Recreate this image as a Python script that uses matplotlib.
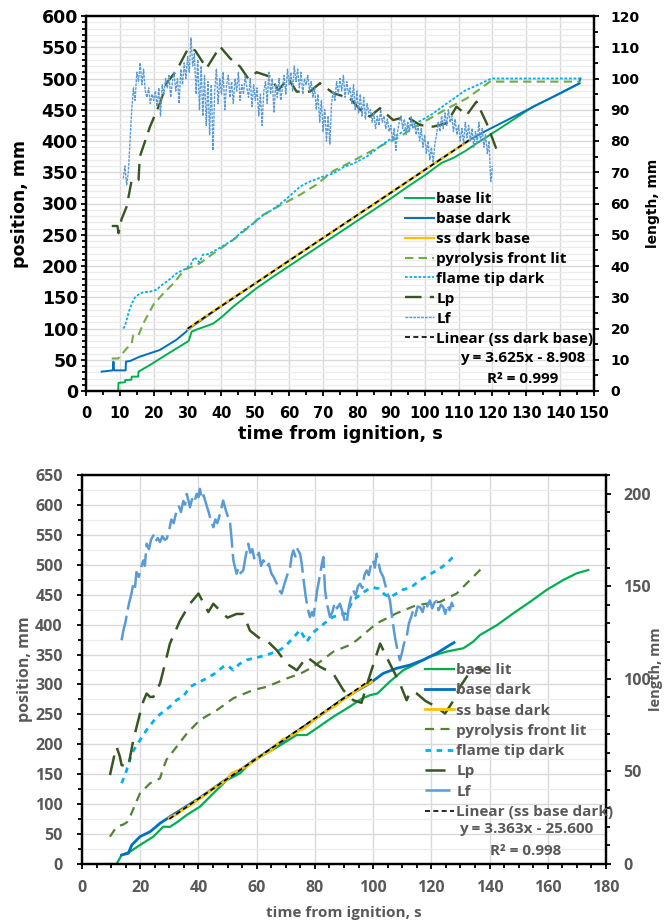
import numpy as np
import matplotlib
matplotlib.use("Agg")
import matplotlib.pyplot as plt
from matplotlib.ticker import MultipleLocator
from matplotlib.font_manager import FontProperties

plt.rcParams['font.family'] = ['Open Sans', 'DejaVu Sans']
plt.rcParams['font.weight'] = 'bold'
plt.rcParams['axes.labelweight'] = 'bold'
plt.rcParams['font.size'] = 11

# ---------------- upper test (dark / lit camera) ----------------
top_lit_t = [7.1, 9.5, 9.6, 11.5, 11.6, 13.4, 13.5, 15.4, 15.5, 18.9,
             22.8, 26.7, 29.1, 30.3, 31.2, 33.0, 35.1, 37.6, 40.0, 43.5,
             50.0, 55.0, 60.0, 65.0, 70.0, 75.0, 80.0, 85.0, 90.0, 95.0,
             100.0, 105.0, 108.5, 112.0, 115.3, 122.2, 132.0, 140.0, 145.8]
top_lit_mm = [0, 0, 13, 14, 17.6, 18, 23, 23, 31, 41.6,
              55, 68, 76, 80, 95, 99, 103, 108, 118, 135,
              163, 182, 200, 218, 236, 254, 272, 290, 308, 327,
              345, 365, 373, 384, 396, 420, 455, 476, 492]

top_dark_t = [4.6, 7.9, 8.1, 8.3, 11.7, 11.8, 13.0, 15.9, 21.8, 26.7,
              29.6, 30.0, 40.0, 50.0, 60.0, 70.0, 80.0, 90.0, 100.0, 110.0,
              113.0, 118.0, 122.0, 130.0, 138.0, 145.5, 146.0]
top_dark_mm = [31, 33, 47, 33, 33, 47, 48, 55, 65.6, 82,
               95, 98, 136, 172, 209, 245, 281, 317, 354, 390,
               401, 416, 427, 449, 471, 492, 500]

top_ss_t = [30, 33, 36, 39, 42, 45, 48, 51, 54, 57, 60, 63, 66, 69, 72,
            75, 78, 81, 84, 87, 90, 93, 96, 99, 102, 105, 108, 111, 113.5]
top_ss_mm = [99, 111, 122, 133, 144, 155, 165, 176, 187, 198, 208, 220, 230, 242, 252,
             263, 273, 285, 295, 306, 318, 328, 339, 350, 361, 371, 383, 393, 402]
top_fit = (3.625, -8.908)

top_pyro_t = [7.6, 9.5, 12.0, 13.5, 13.9, 15.5, 16.9, 19.9, 22.8, 25.8,
              29.1, 33.5, 37.6, 43.5, 49.4, 51.4, 57.0, 63.2, 68.0, 73.0,
              77.0, 82.9, 87.0, 92.7, 97.0, 102.5, 107.0, 112.4, 116.0, 119.3,
              145.8]
top_pyro_mm = [52, 52, 68, 76, 89, 89, 108, 138, 156, 172,
               194, 204, 220, 242, 268, 279, 296, 314, 330, 352,
               363, 380, 392, 407, 422, 439, 453, 468, 482, 495,
               495]

top_tip_t = [11.0, 11.5, 12.5, 13.5, 14.5, 15.9, 17.0, 18.9, 20.9, 22.0,
             23.8, 25.0, 26.7, 28.0, 29.6, 31.0, 32.0, 33.5, 34.5, 36.0,
             38.5, 41.0, 43.5, 46.4, 49.4, 52.0, 55.0, 58.0, 61.0, 63.2,
             66.0, 70.0, 73.0, 76.0, 79.0, 82.9, 86.0, 89.0, 92.7, 96.0,
             99.0, 102.5, 106.0, 109.4, 112.0, 115.0, 117.0, 119.3, 120.0, 146.0]
top_tip_mm = [100, 104, 124, 140, 150, 156, 158, 159, 162, 168,
              175, 180, 188, 192, 196, 203, 214, 206, 218, 219,
              226, 234, 242, 257, 268, 280, 290, 302, 316, 327,
              335, 343, 348, 358, 364, 375, 388, 400, 412, 425,
              433, 444, 458, 471, 481, 488, 493, 499, 500, 500]

top_lp_t = [7.6, 9.3, 9.6, 10.5, 12.0, 13.5, 15.5, 15.9, 18.9, 21.8,
            23.8, 26.8, 30.2, 32.2, 35.6, 39.6, 42.5, 45.5, 47.9, 50.4,
            54.3, 56.8, 59.7, 62.2, 66.1, 69.1, 73.0, 77.9, 81.0, 83.8,
            86.8, 90.7, 94.7, 98.6, 102.5, 106.5, 109.4, 112.4, 115.3, 118.3,
            121.3]
top_lp_len = [52.8, 52.8, 50.5, 55.0, 59.0, 67.5, 67.5, 75.0, 84.6, 92.0,
              98.5, 102.7, 109.7, 109.0, 103.3, 110.2, 106.5, 103.8, 100.0, 102.0,
              100.6, 96.3, 100.0, 95.8, 95.8, 98.5, 95.3, 93.7, 90.0, 87.8,
              90.5, 86.7, 87.8, 85.1, 84.6, 85.7, 91.0, 88.3, 92.6, 85.7,
              77.1]

# flame length, sampled every 0.5 s from 11 s
top_lf_start, top_lf_step = 11.0, 0.5
top_lf_len = [68, 72, 66, 70,
              80, 90, 97, 93, 102, 99, 105, 98, 103, 96,
              94, 97, 92, 95, 93, 96, 91, 97, 88, 98,
              95, 100, 97, 101, 94, 99, 102, 96, 100, 92,
              103, 98, 105, 100, 107, 102, 113, 104, 108, 95,
              106, 90, 104, 88, 101, 85, 99, 82, 98, 77,
              96, 103, 92, 100, 95, 102, 90, 98, 101, 94,
              99, 92, 100, 96, 102, 93, 98, 95, 101, 97,
              94, 100, 91, 98, 93, 97, 88, 95, 85, 96,
              99, 92, 102, 95, 100, 89, 98, 94, 100, 93,
              97, 101, 95, 103, 98, 102, 96, 104, 99, 103,
              97, 102, 95, 100, 98, 101, 96, 99, 94, 97,
              90, 95, 86, 93, 83, 90, 80, 88, 79, 92,
              96, 93, 99, 95, 100, 96, 101, 94, 99, 95,
              97, 92, 98, 90, 96, 89, 95, 88, 94, 87,
              92, 89, 90, 86, 89, 84, 88, 85, 90, 86,
              88, 84, 87, 83, 85, 80, 84, 77, 83, 86,
              88, 84, 87, 82, 86, 83, 88, 84, 86, 82,
              85, 80, 84, 78, 82, 76, 80, 74, 78, 73,
              79, 82, 86, 83, 88, 84, 89, 85, 90, 86,
              88, 83, 87, 82, 85, 80, 84, 79, 86, 81,
              85, 80, 84, 78, 83, 79, 86, 80, 84, 78,
              82, 76, 80, 67, 72]

# ---------------- lower test ----------------
bot_lit_t = [7.3, 11.9, 13.6, 16.5, 19.9, 24.5, 27.9, 30.2, 33.0, 36.0,
             40.5, 45.1, 49.7, 54.3, 58.8, 63.4, 69.2, 73.7, 77.2, 80.6,
             86.3, 92.0, 96.0, 98.9, 101.5, 105.8, 110.4, 115.0, 119.5, 125.3,
             131.0, 134.4, 136.7, 142.5, 148.2, 153.9, 159.6, 165.3, 169.9, 173.9]
bot_lit_mm = [0, 0, 15, 20.6, 31.7, 45.7, 62.4, 62, 71, 82,
              95.7, 118, 140, 151.5, 173.8, 185, 201.7, 215.5, 215.5, 226.7,
              246, 263, 276, 282, 285, 305, 324, 335, 346.4, 355,
              360.5, 371.5, 382.6, 399, 419, 438, 458, 474.5, 485.7, 491.2]

bot_dark_t = [13.6, 15.9, 17.1, 19.9, 23.4, 26.8, 30.2, 40.0, 50.0, 60.0,
              70.0, 80.0, 90.0, 98.9, 103.5, 108.1, 112.7, 117.2, 121.8, 126.4,
              127.8]
bot_dark_mm = [15, 17.8, 31.7, 45.7, 54, 68, 79, 109, 143, 176,
               209, 242, 277, 302, 318.6, 327, 332.5, 341, 352, 366,
               370]

bot_ss_t = [30, 32.5, 35, 37.5, 40, 42.5, 45, 47.5, 50, 51.5,
            54, 56.5, 59, 61, 63, 65, 67, 69, 71, 73,
            75, 77, 79, 81, 83, 85, 87, 89, 91, 93,
            95, 97, 99.5]
bot_ss_mm = [77, 83, 92, 99, 108, 116, 126, 133, 142, 152,
             157, 163, 172, 180, 184, 190, 200, 208, 212, 218,
             224, 229, 238, 246, 253, 259, 264, 272, 279, 285,
             292, 298, 304]
bot_fit = (3.363, -25.600)

bot_pyro_t = [9.6, 11.9, 14.2, 15.5, 16.5, 19.9, 23.4, 26.8, 27.9, 29.0,
              32.5, 36.0, 40.5, 46.3, 52.0, 58.8, 63.4, 70.3, 75.0, 79.5,
              86.3, 92.0, 94.4, 101.2, 108.1, 115.0, 123.0, 128.7, 133.3, 137.3]
bot_pyro_mm = [45.7, 62.4, 66, 70, 79, 118, 135, 143, 160, 174,
               196, 218, 240.6, 257, 277, 290.7, 296, 310, 318, 329.6,
               354.7, 366, 374, 402, 419, 432.7, 438, 452, 474.5, 494]

bot_tip_t = [13.6, 15.0, 17.1, 19.9, 22.2, 25.7, 30.2, 32.5, 34.8, 37.1,
             39.4, 42.8, 45.5, 48.5, 50.0, 51.9, 54.0, 56.6, 60.0, 63.4,
             68.0, 70.0, 72.0, 74.9, 77.2, 79.0, 81.8, 84.0, 86.3, 88.5,
             90.9, 93.0, 96.0, 98.0, 100.0, 102.0, 104.0, 106.0, 108.0, 110.0,
             113.0, 116.0, 119.5, 123.0, 125.5, 127.6]
bot_tip_mm = [135, 151.5, 185, 207, 224, 246, 263, 274, 280, 296,
              302, 310, 318, 329.6, 332, 324, 334, 341, 345, 349,
              357.6, 365, 375, 391, 371.4, 385, 396.5, 405, 413, 416,
              419, 440, 452, 458, 462, 460, 450, 446, 452, 458,
              462, 474, 484, 494, 503, 514]

bot_lp_t = [9.6, 11.3, 11.9, 13.0, 13.6, 15.9, 17.6, 19.9, 21.1, 22.2,
            23.4, 24.5, 26.8, 28.5, 30.2, 33.7, 37.1, 40.0, 43.4, 45.1,
            48.5, 50.0, 53.1, 55.4, 57.7, 61.1, 63.4, 66.9, 70.3, 73.8,
            77.2, 81.8, 86.3, 89.8, 93.2, 96.0, 98.5, 102.4, 105.8, 109.2,
            111.5, 112.7, 115.0, 118.0, 121.8, 124.7, 127.5, 130.0, 133.0, 136.0,
            138.0]
bot_lp_len = [48, 60, 63.2, 58, 53.4, 52.5, 66.8, 81.2, 88, 92,
              90.2, 90.2, 97.4, 108, 119, 131.5, 140.5, 146, 136, 140.5,
              135, 133, 135, 135, 126, 121.7, 120.8, 115.4, 108.2, 104.6,
              111.8, 106.4, 102.8, 93.8, 88.4, 87, 100, 119, 108, 97.4,
              88.4, 92.9, 92, 88, 84.8, 81.2, 88, 96, 103, 106,
              104]

bot_lf_t = [13.6, 14.2, 15.0, 15.4, 16.2, 17.0, 17.6, 18.2, 18.7, 19.5,
            20.3, 21.1, 21.6, 22.2, 23.0, 23.7, 24.5, 25.2, 26.0, 26.8,
            27.6, 28.4, 29.1, 29.9, 30.7, 31.5, 32.5, 33.3, 34.0, 34.8,
            35.4, 36.0, 36.6, 37.1, 37.8, 38.5, 39.4, 40.0, 40.5, 41.2,
            41.8, 42.8, 43.5, 44.2, 45.1, 45.8, 46.5, 47.4, 48.0, 48.5,
            49.2, 50.0, 50.8, 51.4, 52.0, 52.6, 53.1, 53.8, 54.5, 55.4,
            56.2, 57.1, 57.8, 58.5, 59.3, 60.0, 60.8, 61.5, 62.3, 63.4,
            64.2, 65.0, 65.8, 66.9, 67.6, 68.6, 69.5, 70.5, 71.5, 72.0,
            72.6, 73.3, 74.0, 74.9, 75.5, 76.0, 76.8, 77.5, 78.3, 79.0,
            79.5, 80.0, 80.8, 81.3, 81.8, 82.4, 82.9, 83.5, 84.2, 85.2,
            86.0, 86.8, 87.6, 88.6, 89.5, 90.3, 90.9, 91.6, 92.4, 93.2,
            94.0, 94.8, 95.5, 96.3, 97.0, 97.8, 98.5, 99.3, 100.0, 100.6,
            101.2, 101.8, 102.5, 103.5, 104.3, 105.0, 105.8, 106.6, 107.5, 108.3,
            109.2, 109.9, 110.6, 111.5, 112.3, 113.0, 113.8, 114.5, 115.3, 116.1,
            117.0, 117.8, 118.6, 119.5, 120.3, 121.0, 121.8, 122.5, 123.3, 124.1,
            124.8, 125.5, 126.3, 127.0, 127.6]
bot_lf_len = [120.8, 126, 131, 135, 141, 146, 151.3, 149, 157.6, 155,
              160, 163.9, 161, 172.9, 170, 175, 177.4, 174, 176, 173.8,
              177, 175, 175.6, 180, 186, 184, 190.8, 193, 190, 196,
              194, 199.8, 196, 192.6, 197, 195, 199.8, 198, 202.5, 197,
              199, 193.5, 190, 186, 181.8, 186, 184, 189, 193, 196.2,
              192, 188, 185.4, 175, 163.9, 160, 156.7, 160, 157, 158.5,
              166, 172.9, 168, 170, 164, 165.7, 168, 161, 164, 160.3,
              162, 157, 155, 151.3, 148, 146, 151, 156, 160.3, 166,
              169.3, 166, 170, 167.5, 162, 154.9, 145, 138, 133.3, 136,
              134, 138.7, 148, 152, 156.7, 162, 165.7, 147.7, 140, 133.3,
              136, 141, 138, 140.5, 136, 131, 129.8, 138, 144, 147.7,
              145, 150, 151.3, 149, 156, 158.5, 156, 162, 164, 160,
              167.5, 163, 158, 154.9, 150, 146, 142.3, 132, 122.5, 116,
              110, 114, 119, 122.5, 130, 133, 137, 134, 139, 138.7,
              136, 141, 139, 142.3, 138, 141, 142, 137, 140, 138.7,
              135, 140, 137, 141, 138.7]

W, H = 664, 923
fig = plt.figure(figsize=(W / 100, H / 100), dpi=100)


def px_axes(x0, y0, x1, y1):
    # axes rectangle given in pixel corners (top-left origin)
    return fig.add_axes([x0 / W, 1 - y1 / H, (x1 - x0) / W, (y1 - y0) / H])


def dress(ax, ax2, xmax, xmaj, xmin, ymax, ymaj, ymin, rmax, rmaj, rmin, ink,
          lpad, rpad, bpad):
    ax.set_xlim(0, xmax)
    ax.set_ylim(0, ymax)
    ax2.set_ylim(0, rmax)
    ax.xaxis.set_major_locator(MultipleLocator(xmaj))
    ax.xaxis.set_minor_locator(MultipleLocator(xmin))
    ax.yaxis.set_major_locator(MultipleLocator(ymaj))
    ax.yaxis.set_minor_locator(MultipleLocator(ymin))
    ax2.yaxis.set_major_locator(MultipleLocator(rmaj))
    ax2.yaxis.set_minor_locator(MultipleLocator(rmin))
    ax.grid(which='major', axis='both', color='#d9d9d9', lw=1.0)
    ax.grid(which='minor', axis='y', color='#ececec', lw=0.9)
    ax.set_axisbelow(True)
    for a in (ax, ax2):
        for s in a.spines.values():
            s.set_linewidth(1.6)
            s.set_color('black')
        a.tick_params(which='both', direction='out', width=1.3, color='black',
                      labelcolor=ink)
        a.tick_params(which='major', length=3.8)
        a.tick_params(which='minor', length=2.8)
    ax.tick_params(axis='y', pad=lpad)
    ax.tick_params(axis='x', pad=bpad)
    ax2.tick_params(axis='y', pad=rpad)


def tick_font(labels, family, size):
    fp = FontProperties(family=family, weight='bold', size=size)
    for lab in labels:
        lab.set_fontproperties(fp)


def trend(fit, t):
    return [fit[0] * v + fit[1] for v in t]


# ---------------- upper panel ----------------
ax = px_axes(86, 16, 594, 391)
ax2 = ax.twinx()
dress(ax, ax2, 150, 10, 5, 600, 50, 10, 120, 10, 5, 'black', 2, 8, 7)
tick_font(ax.get_yticklabels(), 'DejaVu Sans', 12.5)
tick_font(ax.get_xticklabels(), 'DejaVu Sans', 10.5)
tick_font(ax2.get_yticklabels(), 'DejaVu Sans', 10)

h = []
h += ax.plot(top_lit_t, top_lit_mm, color='#00B050', lw=1.4, label='base lit')
h += ax.plot(top_dark_t, top_dark_mm, color='#0070C0', lw=1.4, label='base dark')
h += ax.plot(top_ss_t, top_ss_mm, color='#FFC000', lw=1.6, label='ss dark base')
h += ax.plot(top_pyro_t, top_pyro_mm, color='#70AD47', lw=1.5, dashes=(4, 2.5),
             label='pyrolysis front lit')
h += ax.plot(top_tip_t, top_tip_mm, color='#00B0F0', lw=1.3, dashes=(1.5, 1),
             label='flame tip dark')
fit_t = [top_ss_t[0], top_ss_t[-1]]
fit_line = ax.plot(fit_t, trend(top_fit, fit_t), color='black', lw=1.2,
                   dashes=(3, 2), label='Linear (ss dark base)')
lf_t = [top_lf_start + top_lf_step * i for i in range(len(top_lf_len))]
h += ax2.plot(top_lp_t, top_lp_len, color='#375623', lw=1.7, dashes=(7, 3.5), label='Lp')
h += ax2.plot(lf_t, top_lf_len, color='#5B9BD5', lw=1.0, dashes=(2, 0.8), label='Lf')
h += fit_line

ax.set_xlabel('time from ignition, s', color='black', fontsize=12.8,
              fontfamily='DejaVu Sans')
ax.xaxis.set_label_coords(0.5, -0.091)
ax.set_ylabel('position, mm', color='black', fontsize=12.5, fontfamily='DejaVu Sans')
ax.yaxis.set_label_coords(-0.112, 0.5)
ax2.set_ylabel('length, mm', color='black', fontsize=10, rotation=90,
               fontfamily='DejaVu Sans')
ax2.yaxis.set_label_coords(1.102, 0.5)

ax2.legend(h, [l.get_label() for l in h], loc='upper left', frameon=False,
           bbox_to_anchor=(405 / W, 1 - 192 / H), bbox_transform=fig.transFigure,
           borderaxespad=0, borderpad=0, handlelength=1.9, handletextpad=0.15,
           labelspacing=0.39, fontsize=11, labelcolor='black')
fig.text(523 / W, 1 - 358 / H, 'y = 3.625x - 8.908', ha='center', va='center',
         color='black', fontsize=11)
fig.text(523 / W, 1 - 379 / H, 'R² = 0.999', ha='center', va='center',
         color='black', fontsize=11)

# ---------------- lower panel ----------------
grey = '#595959'
bx = px_axes(82, 475, 606, 864)
bx2 = bx.twinx()
dress(bx, bx2, 180, 20, 5, 650, 50, 25, 210, 50, 10, grey, 10, 8.5, 8)
tick_font(bx.get_yticklabels() + bx.get_xticklabels() + bx2.get_yticklabels(),
          'Open Sans', 11.5)

g = []
g += bx.plot(bot_lit_t, bot_lit_mm, color='#00B050', lw=1.6, label='base lit')
g += bx.plot(bot_dark_t, bot_dark_mm, color='#0070C0', lw=2.0, label='base dark')
g += bx.plot(bot_ss_t, bot_ss_mm, color='#FFC000', lw=2.0, label='ss base dark')
g += bx.plot(bot_pyro_t, bot_pyro_mm, color='#548235', lw=1.6, dashes=(4, 3),
             label='pyrolysis front lit')
g += bx.plot(bot_tip_t, bot_tip_mm, color='#00B0F0', lw=2.0, dashes=(2, 2),
             label='flame tip dark')
bfit_t = [bot_ss_t[0], bot_ss_t[-1]]
bfit_line = bx.plot(bfit_t, trend(bot_fit, bfit_t), color='black', lw=1.2,
                    dashes=(3, 2), label='Linear (ss base dark)')
g += bx2.plot(bot_lp_t, bot_lp_len, color='#375623', lw=1.8, dashes=(8, 4), label='Lp')
g += bx2.plot(bot_lf_t, bot_lf_len, color='#5B9BD5', lw=1.8, dashes=(10, 2.5), label='Lf')
g += bfit_line

bx.set_xlabel('time from ignition, s', color=grey, fontsize=11)
bx.xaxis.set_label_coords(0.5, -0.108)
bx.set_ylabel('position, mm', color=grey, fontsize=11.5)
bx.yaxis.set_label_coords(-0.093, 0.5)
bx2.set_ylabel('length, mm', color=grey, fontsize=10.5, rotation=90)
bx2.yaxis.set_label_coords(1.082, 0.5)

bx2.legend(g, [l.get_label() for l in g], loc='upper left', frameon=False,
           bbox_to_anchor=(425 / W, 1 - 663 / H), bbox_transform=fig.transFigure,
           borderaxespad=0, borderpad=0, handlelength=1.9, handletextpad=0.15,
           labelspacing=0.41, fontsize=11, labelcolor=grey)
fig.text(526 / W, 1 - 829 / H, 'y = 3.363x - 25.600', ha='center', va='center',
         color=grey, fontsize=11)
fig.text(526 / W, 1 - 851 / H, 'R² = 0.998', ha='center', va='center',
         color=grey, fontsize=11)

fig.savefig('out.png', dpi=100)
